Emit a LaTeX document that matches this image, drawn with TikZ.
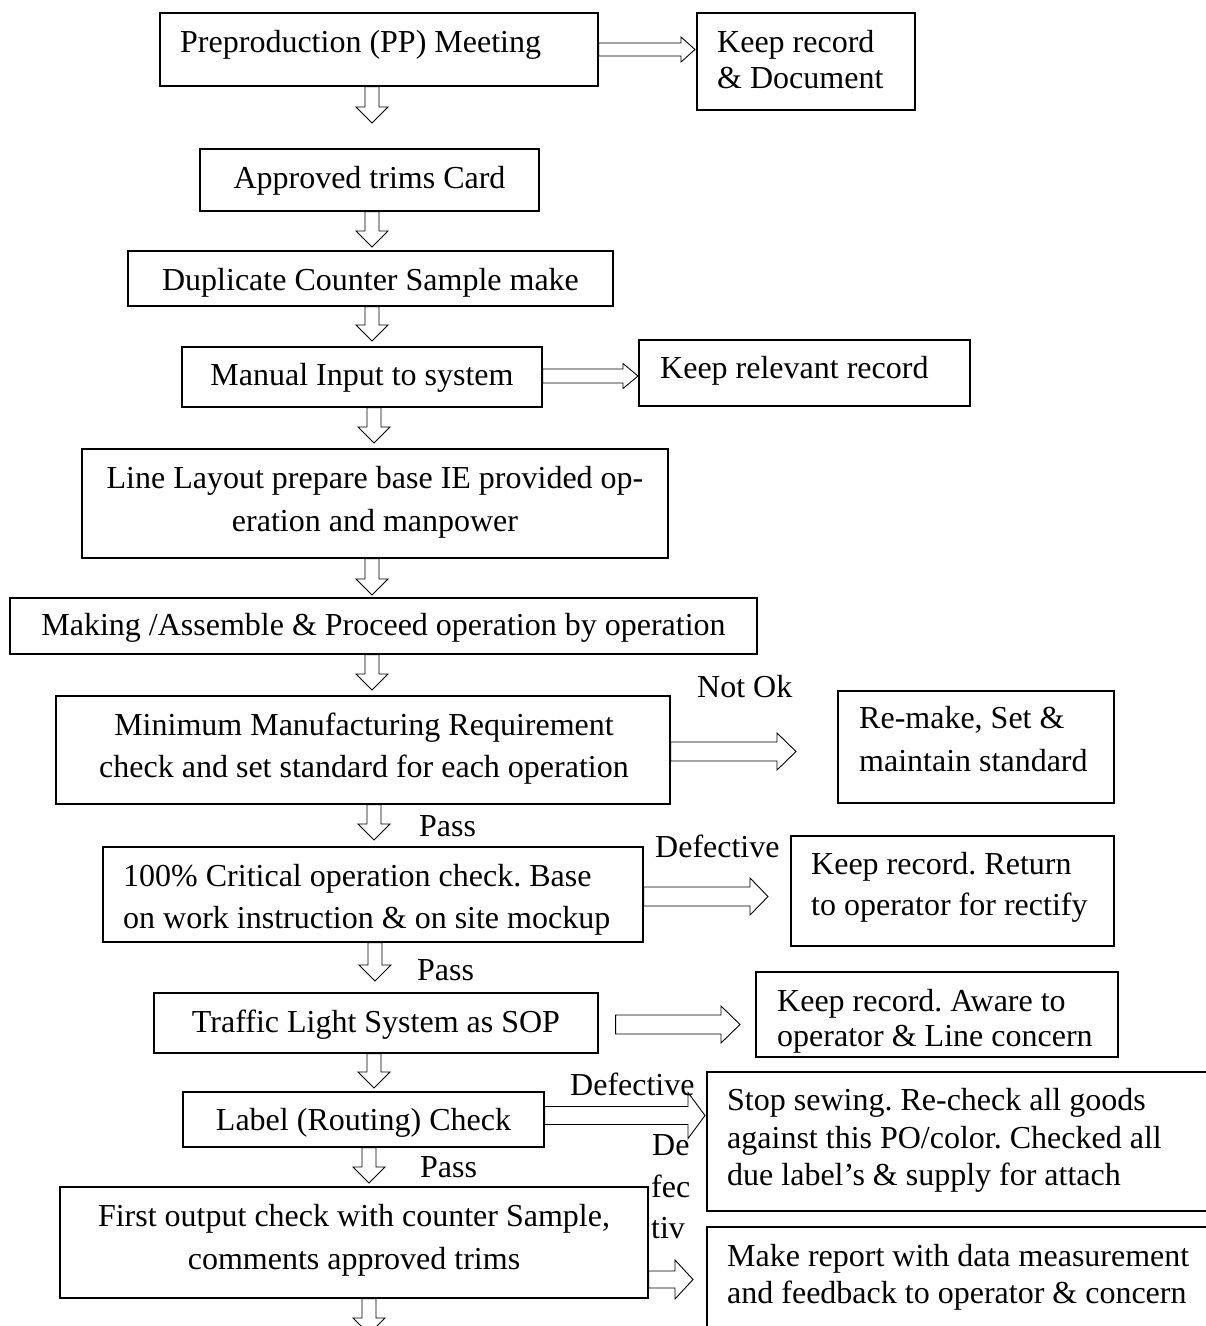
\documentclass[tikz,border=0pt]{standalone}
\usepackage{fontspec}
\setmainfont{Liberation Serif}
\usetikzlibrary{calc,fit}
\frenchspacing

\tikzset{
  stagebox/.style={draw=black, line width=1.1pt, inner sep=0pt, rectangle},
  txt/.style={inner sep=0pt, font=\fontsize{32}{38}\selectfont, anchor=base},
  ltxt/.style={txt, anchor=base west},
  blk/.style={draw=black, line width=0.9pt, line join=miter},
}

% hollow block arrow pointing down: #1 start on a box edge, #2 tip
\newcommand\dnblk[2]{%
  \draw[blk] let \p1=#1, \p2=#2 in
    (\x1-7pt,\y1) -- (\x1-7pt,\y2+16pt) -- (\x1-16pt,\y2+16pt) -- (\x1,\y2)
    -- (\x1+16pt,\y2+16pt) -- (\x1+7pt,\y2+16pt) -- (\x1+7pt,\y1) -- cycle;}

% hollow block arrow pointing right: #1 start, #2 tip,
% #3 half shaft, #4 half head, #5 head length
\newcommand\rtblk[5]{%
  \draw[blk] let \p1=#1, \p2=#2 in
    (\x1,\y2+#3pt) -- (\x2-#5pt,\y2+#3pt) -- (\x2-#5pt,\y2+#4pt) -- (\x2,\y2)
    -- (\x2-#5pt,\y2-#4pt) -- (\x2-#5pt,\y2-#3pt) -- (\x1,\y2-#3pt) -- cycle;}

\begin{document}
\begin{tikzpicture}[x=1pt,y=-1pt]
\useasboundingbox (0,0) rectangle (1206,1326);
\fill[white] (0,0) rectangle (1206,1326);
\clip (0,0) rectangle (1206,1326);

% ---- process boxes ----
\node[stagebox, fit={(160,13) (598,86)}]     (pp)     {};
\node[stagebox, fit={(697,13) (915,110)}]    (keepA)  {};
\node[stagebox, fit={(200,149) (539,211)}]   (appr)   {};
\node[stagebox, fit={(128,251) (613,306)}]   (dup)    {};
\node[stagebox, fit={(182,347) (542,407)}]   (man)    {};
\node[stagebox, fit={(639,340) (970,406)}]   (keepB)  {};
\node[stagebox, fit={(82,449) (668,558)}]    (layout) {};
\node[stagebox, fit={(10,598) (757,654)}]    (making) {};
\node[stagebox, fit={(56,696) (670,804)}]    (mmr)    {};
\node[stagebox, fit={(838,691) (1114,803)}]  (remake) {};
\node[stagebox, fit={(103,847) (643,942)}]   (crit)   {};
\node[stagebox, fit={(791,836) (1114,946)}]  (ret)    {};
\node[stagebox, fit={(154,993) (598,1053)}]  (tls)    {};
\node[stagebox, fit={(756,972) (1118,1057)}] (aware)  {};
\node[stagebox, fit={(183,1092) (544,1147)}] (lbl)    {};
\node[stagebox, fit={(707,1072) (1230,1211)}](stop)   {};
\node[stagebox, fit={(60,1187) (648,1298)}]  (first)  {};
\node[stagebox, fit={(707,1227) (1230,1345)}](report) {};

% ---- texts ----
\node[ltxt] (tpp) at (180,52) {Preproduction (PP) Meeting};
\node[ltxt] (tkA1) at (717,52) {Keep record};
\node[ltxt] (tkA2) at (717,88) {\& Document};
\node[txt]  (tappr) at (369.5,188) {Approved trims Card};
\node[txt]  (tdup) at (370.5,290) {Duplicate Counter Sample make};
\node[txt]  (tman) at (362,385) {Manual Input to system};
\node[ltxt] (tkB) at (660,378) {Keep relevant record};
\node[txt]  (tlay1) at (375,488) {Line Layout prepare base IE provided op-};
\node[txt]  (tlay2) at (375,531) {eration and manpower};
\node[txt]  (tmak) at (383.5,635) {Making /Assemble \& Proceed operation by operation};
\node[txt]  (tmmr1) at (364,735) {Minimum Manufacturing Requirement};
\node[txt]  (tmmr2) at (364,777) {check and set standard for each operation};
\node[ltxt] (tnok) at (697,697) {Not Ok};
\node[ltxt] (trm1) at (859,728) {Re-make, Set \&};
\node[ltxt] (trm2) at (859,771) {maintain standard};
\node[ltxt] (tps1) at (419,836) {Pass};
\node[ltxt] (tdf1) at (655,857) {Defective};
\node[ltxt] (tcr1) at (123,886) {100\% Critical operation check. Base};
\node[ltxt] (tcr2) at (123,928) {on work instruction \& on site mockup};
\node[ltxt] (tret1) at (811,874) {Keep record. Return};
\node[ltxt] (tret2) at (811,915) {to operator for rectify};
\node[ltxt] (tps2) at (417,980) {Pass};
\node[txt]  (ttls) at (376,1032) {Traffic Light System as SOP};
\node[ltxt] (taw1) at (777,1011) {Keep record. Aware to};
\node[ltxt] (taw2) at (777,1046) {operator \& Line concern};
\node[txt]  (tlbl) at (363.5,1130) {Label (Routing) Check};
\node[ltxt] (tdf2) at (570,1095) {Defective};
\node[ltxt] (tst1) at (727,1110) {Stop sewing. Re-check all goods};
\node[ltxt] (tst2) at (727,1148) {against this PO/color. Checked all};
\node[ltxt] (tst3) at (727,1185) {due label’s \& supply for attach};
\node[ltxt] (tde1) at (652,1155) {De};
\node[ltxt] (tde2) at (651,1197) {fec};
\node[ltxt] (tde3) at (651,1238) {tiv};
\node[ltxt] (tps3) at (420,1177) {Pass};
\node[txt]  (tfo1) at (354,1226) {First output check with counter Sample,};
\node[txt]  (tfo2) at (354,1269) {comments approved trims};
\node[ltxt] (trp1) at (727,1266) {Make report with data measurement};
\node[ltxt] (trp2) at (727,1303) {and feedback to operator \& concern};

% ---- arrow tips ----
\coordinate (d1) at (372,123);
\coordinate (d2) at (372,247);
\coordinate (d3) at (372,341);
\coordinate (d4) at (374,443);
\coordinate (d5) at (372,595);
\coordinate (d6) at (372,690);
\coordinate (d7) at (374,840);
\coordinate (d8) at (375,981);
\coordinate (d9) at (374,1088);
\coordinate (d10) at (369,1183);
\coordinate (d11) at (369,1334);

\coordinate (r1) at (695,49.5);
\coordinate (r2) at (638,376);
\coordinate (r3) at (796,751.5);
\coordinate (r4) at (768,896.5);
\coordinate (r5) at (740,1024.5);
\coordinate (r6) at (705,1115.5);
\coordinate (r7) at (693,1279.5);

% ---- main flow ----
\dnblk{(pp.south -| d1)}{(d1)}
\dnblk{(appr.south -| d2)}{(d2)}
\dnblk{(dup.south -| d3)}{(d3)}
\dnblk{(man.south -| d4)}{(d4)}
\dnblk{(layout.south -| d5)}{(d5)}
\dnblk{(making.south -| d6)}{(d6)}
\dnblk{(mmr.south -| d7)}{(d7)}
\dnblk{(crit.south -| d8)}{(d8)}
\dnblk{(tls.south -| d9)}{(d9)}
\dnblk{(lbl.south -| d10)}{(d10)}
\dnblk{(first.south -| d11)}{(d11)}

% ---- side branches ----
\rtblk{(pp.east |- r1)}{(r1)}{6.5}{12.5}{14}
\rtblk{(man.east |- r2)}{(r2)}{7}{12.5}{15}
\rtblk{(mmr.east |- r3)}{(r3)}{9.5}{18.5}{19}
\rtblk{(crit.east |- r4)}{(r4)}{9.5}{18.5}{18}
\rtblk{($(tls.east |- r5)+(17,0)$)}{(r5)}{9.5}{18.5}{19}
\rtblk{(lbl.east |- r6)}{(r6)}{9}{23}{17}
\rtblk{(first.east |- r7)}{(r7)}{8.5}{19.5}{18}
\end{tikzpicture}
\end{document}
